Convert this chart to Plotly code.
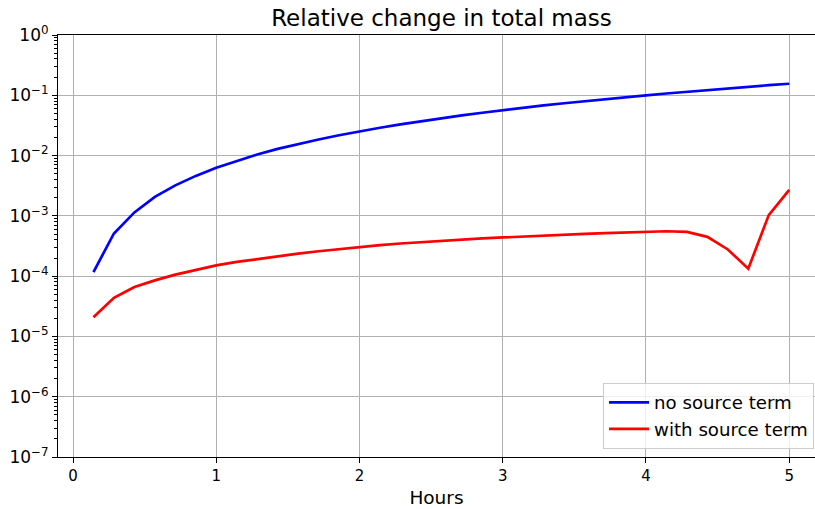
import plotly.graph_objects as go

# Output times: one sample every 1/7 hour, up to 5 hours
hours = [k / 7 for k in range(1, 36)]

no_source = [
    1.17e-4, 5.1e-4, 1.14e-3, 2.06e-3, 3.2e-3, 4.6e-3, 6.3e-3,
    8.2e-3, 1.04e-2, 1.29e-2, 1.56e-2, 1.85e-2, 2.17e-2, 2.52e-2,
    2.89e-2, 3.29e-2, 3.71e-2, 4.16e-2, 4.63e-2, 5.13e-2, 5.66e-2,
    6.2e-2, 6.78e-2, 7.38e-2, 8.0e-2, 8.65e-2, 9.3e-2, 1.0e-1,
    1.07e-1, 1.145e-1, 1.22e-1, 1.3e-1, 1.38e-1, 1.47e-1, 1.555e-1,
]

with_source = [
    2.08e-5, 4.38e-5, 6.6e-5, 8.5e-5, 1.06e-4, 1.28e-4, 1.51e-4,
    1.72e-4, 1.93e-4, 2.14e-4, 2.37e-4, 2.59e-4, 2.82e-4, 3.05e-4,
    3.27e-4, 3.48e-4, 3.67e-4, 3.86e-4, 4.05e-4, 4.22e-4, 4.38e-4,
    4.56e-4, 4.72e-4, 4.88e-4, 5.02e-4, 5.16e-4, 5.30e-4, 5.43e-4,
    5.55e-4, 5.43e-4, 4.49e-4, 2.77e-4, 1.33e-4, 1.03e-3, 2.69e-3,
]

x_ticks = [0, 1, 2, 3, 4, 5]
y_exponents = [-7, -6, -5, -4, -3, -2, -1, 0]
y_tickvals = [10.0 ** e for e in y_exponents]
y_ticktext = [f"10<sup>{'−' if e < 0 else ''}{abs(e)}</sup>" for e in y_exponents]

FONT = "DejaVu Sans"
GRID = "#b0b0b0"

fig = go.Figure()
fig.add_trace(go.Scatter(x=hours, y=no_source, mode="lines", name="no source term",
                         line=dict(color="#0000ff", width=2.7)))
fig.add_trace(go.Scatter(x=hours, y=with_source, mode="lines", name="with source term",
                         line=dict(color="#ff0000", width=2.7)))

fig.update_layout(
    width=815, height=509,
    margin=dict(l=58, r=0, t=35, b=52, autoexpand=False),
    paper_bgcolor="white", plot_bgcolor="white",
    font=dict(family=FONT, size=15, color="black"),
    title=dict(text="Relative change in total mass", x=441.5 / 815, xref="container",
               xanchor="center", y=0.965, yref="container", yanchor="middle",
               font=dict(size=23, family=FONT, color="black")),
    showlegend=True,
    legend=dict(x=0.9987, xanchor="right", y=0.019, yanchor="bottom",
                bgcolor="rgba(255,255,255,0.8)", bordercolor="#cccccc", borderwidth=1,
                font=dict(size=18.2, family=FONT), itemwidth=40,
                tracegroupgap=2),
)

fig.update_xaxes(
    range=[-0.1047, 5.18], tickvals=x_ticks, ticktext=[str(v) for v in x_ticks],
    showgrid=True, gridcolor=GRID, gridwidth=1.1,
    showline=True, linecolor="black", linewidth=1.1, mirror=True,
    ticks="outside", ticklen=5, tickwidth=1.1, tickcolor="black",
    zeroline=False, tickfont=dict(size=15), automargin=False,
    title=dict(text="Hours", font=dict(size=18.5), standoff=7),
)

fig.update_yaxes(
    type="log", range=[-7, 0], tickvals=y_tickvals, ticktext=y_ticktext,
    showgrid=True, gridcolor=GRID, gridwidth=1.1,
    showline=True, linecolor="black", linewidth=1.1, mirror=False,
    ticks="outside", ticklen=5, tickwidth=1.1, tickcolor="black",
    zeroline=False, tickfont=dict(size=17), automargin=False,
    minor=dict(ticks="outside", ticklen=3, tickwidth=0.8, tickcolor="black",
               dtick="D1", showgrid=False),
)

fig.write_html("out.html")
